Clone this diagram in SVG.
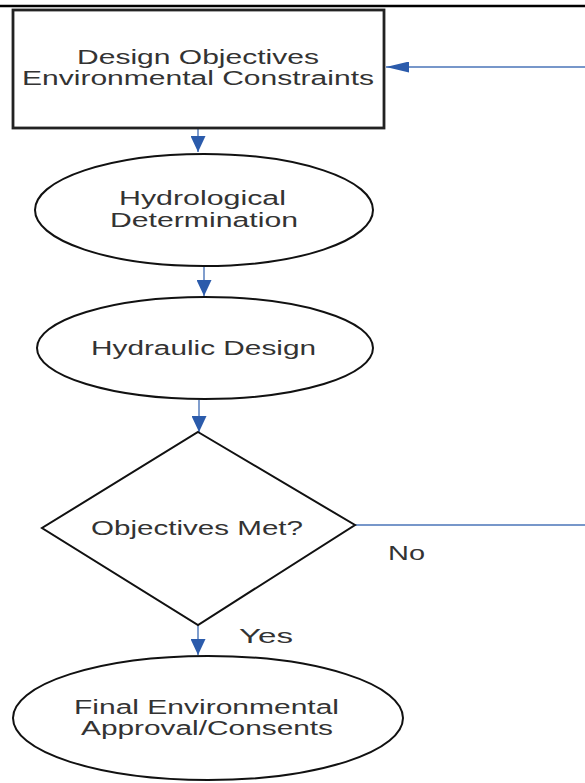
<svg xmlns="http://www.w3.org/2000/svg" width="585" height="783" viewBox="0 0 585 783">
<style>
.shape{fill:#fff;stroke:#111;stroke-width:2}
.box{fill:#fff;stroke:#222;stroke-width:2.8}
.lbl{font-family:"Liberation Sans",Arial,sans-serif;font-size:20px;fill:#333}
.conn{stroke:#4a74b8;stroke-width:1.4;fill:none}
.head{fill:#2b5bab}
</style>
<defs>
<marker id="arrDown" markerUnits="userSpaceOnUse" orient="auto" refX="16" refY="7.5" markerWidth="16" markerHeight="15">
<path class="head" d="M0,0 L16,7.5 L0,15 Z"/>
</marker>
<marker id="arrSide" markerUnits="userSpaceOnUse" orient="auto" refX="23" refY="5.5" markerWidth="23" markerHeight="11">
<path class="head" d="M0,0 L23,5.5 L0,11 Z"/>
</marker>
</defs>
<rect x="0" y="0" width="585" height="783" fill="#fff"/>
<line x1="0" y1="6" x2="585" y2="6" stroke="#000" stroke-width="2.5"/>
<g id="connectors">
<line class="conn" x1="198" y1="129" x2="198" y2="152" marker-end="url(#arrDown)"/>
<line class="conn" x1="204" y1="266" x2="204" y2="296" marker-end="url(#arrDown)"/>
<line class="conn" x1="199" y1="400" x2="199" y2="432" marker-end="url(#arrDown)"/>
<line class="conn" x1="198" y1="625" x2="198" y2="655" marker-end="url(#arrDown)"/>
<polyline class="conn" points="355,525 585,525"/>
<line class="conn" x1="585" y1="67" x2="386" y2="67" marker-end="url(#arrSide)"/>
<text class="lbl" x="388" y="560" textLength="37" lengthAdjust="spacingAndGlyphs">No</text>
<text class="lbl" x="239" y="643" textLength="54" lengthAdjust="spacingAndGlyphs">Yes</text>
</g>
<g id="node-design-objectives">
<rect class="box" x="13" y="10" width="371" height="118"/>
<text class="lbl" x="77" y="64" textLength="242" lengthAdjust="spacingAndGlyphs">Design Objectives</text>
<text class="lbl" x="22" y="85" textLength="352" lengthAdjust="spacingAndGlyphs">Environmental Constraints</text>
</g>
<g id="node-hydrological">
<ellipse class="shape" cx="204" cy="210" rx="169" ry="56"/>
<text class="lbl" x="119" y="205" textLength="167" lengthAdjust="spacingAndGlyphs">Hydrological</text>
<text class="lbl" x="110" y="227" textLength="188" lengthAdjust="spacingAndGlyphs">Determination</text>
</g>
<g id="node-hydraulic">
<ellipse class="shape" cx="205" cy="348" rx="168" ry="51"/>
<text class="lbl" x="91" y="355" textLength="225" lengthAdjust="spacingAndGlyphs">Hydraulic Design</text>
</g>
<g id="node-decision">
<polygon class="shape" points="198,432 355,525 198,625 42,528"/>
<text class="lbl" x="91" y="535" textLength="212" lengthAdjust="spacingAndGlyphs">Objectives Met?</text>
</g>
<g id="node-final">
<ellipse class="shape" cx="208" cy="718" rx="195" ry="62"/>
<text class="lbl" x="74" y="714" textLength="265" lengthAdjust="spacingAndGlyphs">Final Environmental</text>
<text class="lbl" x="81" y="735" textLength="252" lengthAdjust="spacingAndGlyphs">Approval/Consents</text>
</g>
</svg>
